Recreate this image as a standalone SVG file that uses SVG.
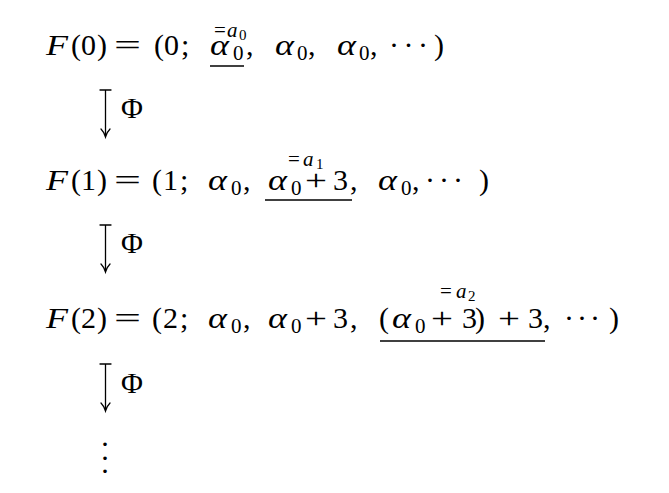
<svg xmlns="http://www.w3.org/2000/svg" width="669" height="493" viewBox="0 0 669 493">
<style>
text{font-family:"Liberation Serif","Times New Roman",serif;font-size:30px;fill:#000}
.it{font-style:italic}
.sub{font-size:21px;font-style:normal}
.ss{font-size:15px;font-style:normal}
.ul{stroke:#000;stroke-width:1.3}
.arr{fill:none;stroke:#000;stroke-width:1.3;stroke-linecap:round}
</style>
<rect width="669" height="493" fill="#fff"/>
<g id="line0">
<text class="it" x="46" y="55" textLength="22" lengthAdjust="spacingAndGlyphs">F</text>
<text x="71 81 97" y="55">(0)</text>
<text x="114" y="55" textLength="27" lengthAdjust="spacingAndGlyphs">=</text>
<text x="154 164 181" y="55">(0;</text>
<text class="it" x="210" y="55" textLength="19" lengthAdjust="spacingAndGlyphs">α</text><text class="sub" x="233" y="60">0</text>
<text class="sub" x="214" y="37">=<tspan class="it" x="227">a</tspan><tspan class="ss" x="239" y="40">0</tspan></text>
<line class="ul" x1="210" y1="66" x2="244" y2="66"/>
<text x="246" y="55">,</text>
<text class="it" x="275" y="55" textLength="19" lengthAdjust="spacingAndGlyphs">α</text><text class="sub" x="297" y="60">0</text><text x="308" y="55">,</text>
<text class="it" x="337" y="55" textLength="19" lengthAdjust="spacingAndGlyphs">α</text><text class="sub" x="359" y="60">0</text><text x="370" y="55">,</text>
<text x="394 408.5 423" y="55" text-anchor="middle">···</text>
<text x="434" y="55">)</text>
</g>
<g id="line1">
<text class="it" x="46" y="190" textLength="22" lengthAdjust="spacingAndGlyphs">F</text>
<text x="71 81 97" y="190">(1)</text>
<text x="114" y="190" textLength="27" lengthAdjust="spacingAndGlyphs">=</text>
<text x="152 163 180" y="190">(1;</text>
<text class="it" x="208" y="190" textLength="19" lengthAdjust="spacingAndGlyphs">α</text><text class="sub" x="231" y="195">0</text><text x="243" y="190">,</text>
<text class="it" x="268" y="190" textLength="19" lengthAdjust="spacingAndGlyphs">α</text><text class="sub" x="291" y="195">0</text>
<text x="305" y="190" textLength="22" lengthAdjust="spacingAndGlyphs">+</text>
<text x="333" y="190">3</text>
<text class="sub" x="288" y="166">=<tspan class="it" x="303">a</tspan><tspan class="ss" x="316" y="169">1</tspan></text>
<line class="ul" x1="265" y1="200" x2="352" y2="200"/>
<text x="350" y="190">,</text>
<text class="it" x="378" y="190" textLength="19" lengthAdjust="spacingAndGlyphs">α</text><text class="sub" x="401" y="195">0</text><text x="412" y="190">,</text>
<text x="430 444 458" y="190" text-anchor="middle">···</text>
<text x="479" y="190">)</text>
</g>
<g id="line2">
<text class="it" x="46" y="328" textLength="22" lengthAdjust="spacingAndGlyphs">F</text>
<text x="71 81 97" y="328">(2)</text>
<text x="114" y="328" textLength="27" lengthAdjust="spacingAndGlyphs">=</text>
<text x="152 163 180" y="328">(2;</text>
<text class="it" x="208" y="328" textLength="19" lengthAdjust="spacingAndGlyphs">α</text><text class="sub" x="231" y="333">0</text><text x="243" y="328">,</text>
<text class="it" x="268" y="328" textLength="19" lengthAdjust="spacingAndGlyphs">α</text><text class="sub" x="291" y="333">0</text>
<text x="305" y="328" textLength="22" lengthAdjust="spacingAndGlyphs">+</text>
<text x="333" y="328">3</text><text x="350" y="328">,</text>
<text x="379" y="328">(</text>
<text class="it" x="392" y="328" textLength="19" lengthAdjust="spacingAndGlyphs">α</text><text class="sub" x="415" y="333">0</text>
<text x="431" y="328" textLength="22" lengthAdjust="spacingAndGlyphs">+</text>
<text x="462 475" y="328">3)</text>
<text x="498" y="328" textLength="22" lengthAdjust="spacingAndGlyphs">+</text>
<text x="528" y="328">3</text>
<text class="sub" x="440" y="298">=<tspan class="it" x="456">a</tspan><tspan class="ss" x="468" y="301">2</tspan></text>
<line class="ul" x1="380" y1="341" x2="545" y2="341"/>
<text x="543" y="328">,</text>
<text x="569 582 595" y="328" text-anchor="middle">···</text>
<text x="609" y="328">)</text>
</g>
<g id="connectors">
<g id="map0">
<path class="arr" d="M100,90H111M105.5,90V137M101,129Q104,132 105.5,137Q107,132 110,129"/>
<text x="121" y="118">Φ</text>
</g>
<g id="map1">
<path class="arr" d="M100,225H111M105.5,225V272M101,264Q104,267 105.5,272Q107,267 110,264"/>
<text x="121" y="253">Φ</text>
</g>
<g id="map2">
<path class="arr" d="M100,364H111M105.5,364V411M101,403Q104,406 105.5,411Q107,406 110,403"/>
<text x="121" y="393">Φ</text>
</g>
</g>
<g id="vdots">
<text x="105 105 105" y="446 460 473" text-anchor="middle">...</text>
</g>
</svg>
